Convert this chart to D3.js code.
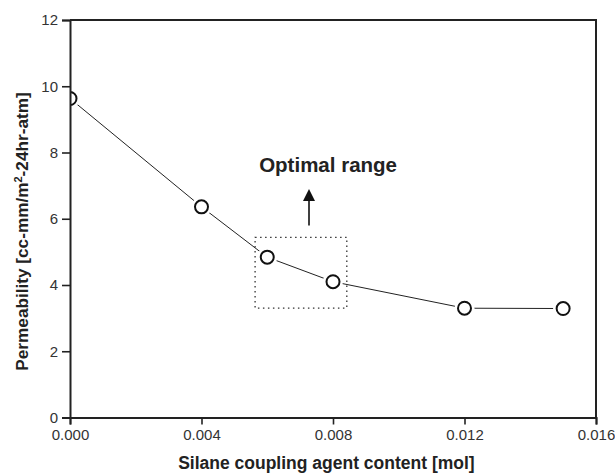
<!DOCTYPE html>
<html>
<head>
<meta charset="utf-8">
<script src="https://cdn.jsdelivr.net/npm/d3@7"></script>
<style>
  body { margin: 0; background: #fff; }
  text { font-family: "Liberation Sans", Arial, sans-serif; }
</style>
</head>
<body>
<div id="chart"></div>
<script>
// data
const silane = [0.000, 0.004, 0.006, 0.008, 0.012, 0.015];
const permeability = [9.63, 6.36, 4.84, 4.10, 3.30, 3.29];
const xTicks = [0.000, 0.004, 0.008, 0.012, 0.016];
const yTicks = [0, 2, 4, 6, 8, 10, 12];
// optimal range box (data units) and arrow
const boxX = [0.00563, 0.00842];
const boxY = [3.30, 5.44];
const arrowX = 0.00727;
const arrowY = [5.80, 6.90];

const W = 615, H = 476;
const margin = { top: 20, right: 19, bottom: 58.5, left: 70 };
const width = W - margin.left - margin.right;
const height = H - margin.top - margin.bottom;

const svg = d3.select('#chart')
  .append('svg')
  .attr('width', W)
  .attr('height', H)
  .append('g')
  .attr('transform', 'translate(' + margin.left + ',' + margin.top + ')');

const x = d3.scaleLinear().domain([0, 0.016]).range([0, width]);
const y = d3.scaleLinear().domain([0, 12]).range([height, 0]);

svg.append('defs').append('clipPath').attr('id', 'plotclip')
  .attr('clipPathUnits', 'userSpaceOnUse')
  .append('rect').attr('x', 0).attr('y', 0).attr('width', width).attr('height', height);

// line + markers, clipped to the plot box
const pts = silane.map((s, i) => [s, permeability[i]]);
const g = svg.append('g').attr('clip-path', 'url(#plotclip)');
g.append('path')
  .datum(pts)
  .attr('d', d3.line().x(d => x(d[0])).y(d => y(d[1])))
  .attr('fill', 'none').attr('stroke', '#222').attr('stroke-width', 1);

// white halo gaps then circles
g.selectAll('.halo').data(pts).enter().append('circle')
  .attr('cx', d => x(d[0])).attr('cy', d => y(d[1]))
  .attr('r', 10).attr('fill', '#fff');
g.selectAll('.pt').data(pts).enter().append('circle')
  .attr('cx', d => x(d[0])).attr('cy', d => y(d[1]))
  .attr('r', 6.5).attr('fill', '#fff')
  .attr('stroke', '#111').attr('stroke-width', 2);

// X axis
const xAxis = svg.append('g')
  .attr('transform', 'translate(0,' + height + ')')
  .call(d3.axisBottom(x).tickValues(xTicks).tickFormat(d3.format('.3f')).tickSize(7).tickPadding(5));

// Y axis
const yAxis = svg.append('g')
  .call(d3.axisLeft(y).tickValues(yTicks).tickSize(8).tickPadding(4));

[xAxis, yAxis].forEach(a => {
  a.select('.domain').attr('stroke', '#222').attr('stroke-width', 2);
  a.selectAll('.tick line').attr('stroke', '#222').attr('stroke-width', 1.6);
  a.selectAll('.tick text').attr('fill', '#333').style('font-size', '15px')
    .style('font-family', '"Liberation Sans", Arial, sans-serif');
});

// frame top and right
svg.append('path')
  .attr('d', 'M0,0H' + width + 'V' + height)
  .attr('fill', 'none').attr('stroke', '#222').attr('stroke-width', 2);

// dotted box
svg.append('rect')
  .attr('x', x(boxX[0])).attr('y', y(boxY[1]))
  .attr('width', x(boxX[1]) - x(boxX[0]))
  .attr('height', y(boxY[0]) - y(boxY[1]))
  .attr('fill', 'none').attr('stroke', '#333').attr('stroke-width', 1.3)
  .attr('stroke-dasharray', '1.5,3.5');

// arrow
svg.append('line')
  .attr('x1', x(arrowX)).attr('x2', x(arrowX))
  .attr('y1', y(arrowY[0])).attr('y2', y(arrowY[1]) + 10)
  .attr('stroke', '#111').attr('stroke-width', 1.6);
svg.append('path')
  .attr('d', 'M' + (x(arrowX) - 6) + ',' + (y(arrowY[1]) + 12) + 'L' + x(arrowX) + ',' + y(arrowY[1]) + 'L' + (x(arrowX) + 6) + ',' + (y(arrowY[1]) + 12) + 'Z')
  .attr('fill', '#111');

svg.append('text')
  .attr('x', x(0.00785)).attr('y', y(7.4))
  .attr('text-anchor', 'middle')
  .style('font-size', '20.5px').style('font-weight', 'bold')
  .attr('fill', '#222')
  .text('Optimal range');

// axis titles
svg.append('text')
  .attr('x', x(0.0078)).attr('y', height + 51)
  .attr('text-anchor', 'middle')
  .style('font-size', '17.5px').style('font-weight', 'bold')
  .attr('fill', '#222')
  .text('Silane coupling agent content [mol]');

const yt = svg.append('text')
  .attr('transform', 'translate(' + (-42) + ',' + 211.5 + ') rotate(-90)')
  .attr('text-anchor', 'middle')
  .style('font-size', '17.2px').style('font-weight', 'bold')
  .attr('fill', '#222');
yt.append('tspan').text('Permeability [cc-mm/m');
yt.append('tspan').attr('dy', -6).style('font-size', '11px').text('2');
yt.append('tspan').attr('dy', 6).text('-24hr-atm]');
</script>
</body>
</html>
